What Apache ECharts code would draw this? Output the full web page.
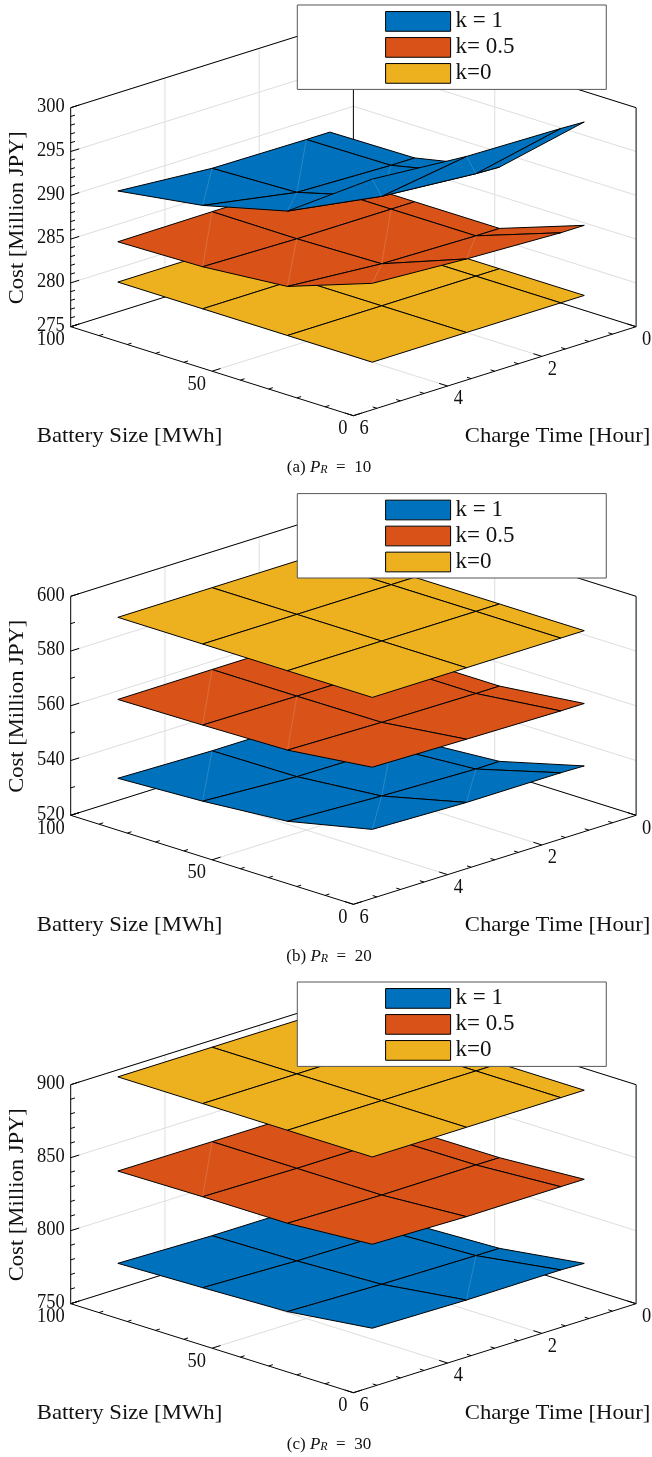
<!DOCTYPE html>
<html>
<head>
<meta charset="utf-8">
<style>html,body{margin:0;padding:0;background:#fff}#c{width:652px;height:1457px}</style>
<script src="https://cdn.jsdelivr.net/npm/echarts@6/dist/echarts.min.js"></script>
</head>
<body>
<div id="c"></div>
<script>
// ---- data ----
const batterySizes = [100, 70, 40, 10];      // back to front
const chargeTimes  = [0.5, 1, 3, 5];         // back to front
const batteryTicks = [0, 50, 100];
const timeTicks    = [0, 2, 4, 6];
const seriesNames  = ['k = 1', 'k= 0.5', 'k=0'];
const captions     = ['a', 'b', 'c'];
const captionPR    = [10, 20, 30];

const costTicksA = [275, 280, 285, 290, 295, 300];
const costTicksB = [520, 540, 560, 580, 600];
const costTicksC = [750, 800, 850, 900];

// rows follow batterySizes, columns follow chargeTimes
const costA_k1 = [
  [287.9, 287.9, 288.0, 288.8],
  [288.0, 288.0, 288.3, 290.2],
  [290.0, 290.1, 290.9, 292.6],
  [298.2, 298.3, 298.5, 299.3]];
const costA_k05 = [
  [283.0, 283.0, 283.05, 283.0],
  [283.0, 283.0, 283.0, 283.2],
  [283.0, 283.0, 283.2, 284.0],
  [286.4, 286.4, 286.8, 287.4]];
const costA_k0 = [
  [278.4, 278.4, 278.4, 278.4],
  [278.4, 278.4, 278.4, 278.4],
  [278.4, 278.4, 278.4, 278.4],
  [278.4, 278.4, 278.4, 278.4]];

const costB_k1 = [
  [527.3, 527.3, 527.3, 528.1],
  [527.3, 527.3, 527.6, 529.5],
  [529.4, 529.3, 530.3, 531.9],
  [537.5, 537.7, 537.7, 538.7]];
const costB_k05 = [
  [557.0, 557.0, 557.0, 556.9],
  [556.9, 556.9, 557.0, 557.3],
  [556.9, 556.9, 557.2, 557.9],
  [560.3, 560.3, 560.8, 561.4]];
const costB_k0 = [
  [586.9, 586.9, 586.9, 586.9],
  [586.9, 586.9, 586.9, 586.9],
  [586.9, 586.9, 586.9, 586.9],
  [586.9, 586.9, 586.9, 586.9]];

const costC_k1 = [
  [766.0, 766.0, 766.1, 767.5],
  [766.5, 766.5, 767.1, 769.1],
  [768.6, 768.7, 769.4, 771.0],
  [776.6, 777.2, 776.9, 777.9]];
const costC_k05 = [
  [830.5, 830.5, 830.5, 830.7],
  [830.5, 830.5, 830.5, 831.4],
  [830.7, 830.8, 830.5, 831.5],
  [834.2, 834.2, 834.0, 835.4]];
const costC_k0 = [
  [895.2, 895.2, 895.2, 895.2],
  [895.2, 895.2, 895.2, 895.2],
  [895.2, 895.2, 895.2, 895.2],
  [895.2, 895.2, 895.2, 895.2]];

// ---- panel setup ----
const panels = [
  {ticks: costTicksA, minorStep: 1,  surfaces: [costA_k0, costA_k05, costA_k1], order: [2, 1, 0]},
  {ticks: costTicksB, minorStep: 10, surfaces: [costB_k1, costB_k05, costB_k0], order: [0, 1, 2]},
  {ticks: costTicksC, minorStep: 10, surfaces: [costC_k1, costC_k05, costC_k0], order: [0, 1, 2]}
];
const colors = ['#0072BD', '#D95319', '#EDB120'];
const offsets = [0, 488.6, 977];
const FONT = '"Liberation Serif", serif';
const GRID = '#dedede';
const FLOOR_RATIO = 89 / 219;      // floor depth relative to wall height
const PLOT_LEFT = 70.7, PLOT_W = 565.4, PLOT_H = 397, PLOT_BOTTOM = 415.7;

function projector(panel, api) {
  const t0 = panel.ticks[0], t1 = panel.ticks[panel.ticks.length - 1];
  return (b, t, z) => {
    const bn = b / 100, tn = (6 - t) / 6, zn = (z - t0) / (t1 - t0);
    return api.coord([tn - bn, (bn + tn) * FLOOR_RATIO + zn]);
  };
}
function line(p, q, color, w) {
  return {type: 'line', shape: {x1: p[0], y1: p[1], x2: q[0], y2: q[1]},
          style: {stroke: color, lineWidth: w, fill: null}, silent: true};
}
function text(str, x, y, align, fs, sx, rot) {
  return {type: 'text', x, y, rotation: rot || 0, scaleX: sx || 1, silent: true,
          style: {text: str, font: fs + 'px ' + FONT, fill: '#111',
                  textAlign: align || 'center', textVerticalAlign: 'middle'}};
}
const num = (v, x, y, align) => text(String(v), x, y, align, 20.5, 0.9);

function renderFrame(panel) {
  return function (params, api) {
    const P = projector(panel, api);
    const zs = panel.ticks, zMin = zs[0], zMax = zs[zs.length - 1];
    const els = [];
    // wall and floor grid
    zs.forEach(z => {
      els.push(line(P(100, 6, z), P(100, 0, z), GRID, 1));
      els.push(line(P(100, 0, z), P(0, 0, z), GRID, 1));
    });
    timeTicks.slice(1, -1).forEach(t => {
      els.push(line(P(100, t, zMin), P(100, t, zMax), GRID, 1));
      els.push(line(P(0, t, zMin), P(100, t, zMin), GRID, 1));
    });
    batteryTicks.slice(1, -1).forEach(b => {
      els.push(line(P(b, 0, zMin), P(b, 0, zMax), GRID, 1));
      els.push(line(P(b, 6, zMin), P(b, 0, zMin), GRID, 1));
    });
    // box
    const K = '#000';
    [[100, 6, zMin, 100, 6, zMax], [0, 0, zMin, 0, 0, zMax], [100, 0, zMin, 100, 0, zMax],
     [100, 6, zMax, 100, 0, zMax], [100, 0, zMax, 0, 0, zMax],
     [100, 6, zMin, 100, 0, zMin], [100, 0, zMin, 0, 0, zMin],
     [100, 6, zMin, 0, 6, zMin], [0, 6, zMin, 0, 0, zMin]].forEach(s => {
      els.push(line(P(s[0], s[1], s[2]), P(s[3], s[4], s[5]), K, 1));
    });
    // cost axis
    for (let z = zMin; z <= zMax + 1e-6; z += panel.minorStep) {
      const major = zs.includes(z);
      els.push(line(P(100, 6, z), P(100, 6 - (major ? 0.18 : 0.09), z), K, 1));
    }
    zs.forEach(z => {
      const p = P(100, 6, z);
      els.push(num(z, p[0] - 6, p[1] - 1, 'right'));
    });
    // battery axis
    for (let b = 0; b <= 100; b += 10) {
      const major = batteryTicks.includes(b);
      els.push(line(P(b, 6, zMin), P(b, 6 - (major ? 0.18 : 0.09), zMin), K, 1));
    }
    batteryTicks.forEach(b => {
      const p = P(b, 6, zMin);
      els.push(num(b, p[0] - 6, p[1] + 13, 'right'));
    });
    // time axis
    for (let t = 0; t <= 6; t += 0.5) {
      const major = timeTicks.includes(t);
      els.push(line(P(0, t, zMin), P(major ? 3 : 1.5, t, zMin), K, 1));
    }
    timeTicks.forEach(t => {
      const p = P(0, t, zMin);
      els.push(num(t, p[0] + 6, p[1] + 13, 'left'));
    });
    // axis titles
    const front = P(0, 6, zMin);
    const left = P(100, 6, zMin);
    els.push(text('Battery Size [MWh]', 129.5, front[1] + 21, 'center', 21, 1.082));
    els.push(text('Charge Time [Hour]', 557.5, front[1] + 21, 'center', 21, 1.082));
    els.push(text('Cost [Million JPY]', 17.5, left[1] - 109, 'center', 21, 1.075, Math.PI / 2));
    return {type: 'group', children: els};
  };
}

function renderQuad(panel, color) {
  return function (params, api) {
    const P = projector(panel, api);
    const c = [0, 3, 6, 9].map(i => P(api.value(i), api.value(i + 1), api.value(i + 2)));
    const children = [{
      type: 'polygon', shape: {points: c}, silent: true,
      style: {fill: color, stroke: '#000', lineWidth: 1, lineJoin: 'round'}
    }];
    const twist = Math.abs(c[0][1] + c[2][1] - c[1][1] - c[3][1]);
    if (twist > 1) {
      children.push(line(c[0], c[2], 'rgba(255,255,255,0.25)', 0.6));
    }
    return {type: 'group', children};
  };
}

function quadsOf(grid) {
  const rows = [];
  for (let i = 0; i < batterySizes.length - 1; i++) {
    for (let j = 0; j < chargeTimes.length - 1; j++) {
      const pt = (a, b) => [batterySizes[a], chargeTimes[b], grid[a][b]];
      rows.push([...pt(i, j), ...pt(i, j + 1), ...pt(i + 1, j + 1), ...pt(i + 1, j)]);
    }
  }
  return rows;
}

const grids = [], xAxes = [], yAxes = [], series = [], legends = [], titles = [];
panels.forEach((panel, pi) => {
  const off = offsets[pi];
  grids.push({left: PLOT_LEFT, width: PLOT_W, top: PLOT_BOTTOM + off - PLOT_H, height: PLOT_H});
  xAxes.push({type: 'value', gridIndex: pi, min: -1, max: 1, show: false});
  yAxes.push({type: 'value', gridIndex: pi, min: 0, max: 2 * FLOOR_RATIO + 1, show: false});
  series.push({
    type: 'custom', xAxisIndex: pi, yAxisIndex: pi, clip: false, silent: true, z: 1,
    data: [[0, 0]], renderItem: renderFrame(panel)
  });
  panel.order.forEach((nameIdx, k) => {
    series.push({
      type: 'custom', name: seriesNames[nameIdx], xAxisIndex: pi, yAxisIndex: pi,
      clip: false, silent: true, z: 2 + k, itemStyle: {color: colors[nameIdx]},
      data: quadsOf(panel.surfaces[k]), renderItem: renderQuad(panel, colors[nameIdx])
    });
  });
  legends.push({
    left: 297.3, top: 5 + off, orient: 'vertical', align: 'left', selectedMode: false,
    backgroundColor: '#fff', borderColor: '#555', borderWidth: 1, borderRadius: 0,
    padding: [4.9, 91.7, 4.5, 87.8], itemWidth: 65, itemHeight: 19.7, itemGap: 3,
    itemStyle: {borderColor: '#000', borderWidth: 1}, z: 20,
    textStyle: {fontFamily: FONT, fontSize: 23, lineHeight: 23, color: '#111'},
    data: seriesNames.map((n, i) => ({name: n, icon: 'rect', itemStyle: {color: colors[i], borderColor: '#000', borderWidth: 1}}))
  });
  titles.push({
    text: '(' + captions[pi] + ') {i|P}{s|R}  =  ' + captionPR[pi],
    left: 329, top: 459 + off, textAlign: 'center', padding: 0,
    textStyle: {fontFamily: FONT, fontSize: 17, fontWeight: 'normal', color: '#111',
      rich: {i: {fontFamily: FONT, fontSize: 17, fontStyle: 'italic', color: '#111'},
             s: {fontFamily: FONT, fontSize: 12, fontStyle: 'italic', color: '#111', verticalAlign: 'bottom', padding: [5, 0, 0, 0]}}}
  });
});

const chart = echarts.init(document.getElementById('c'), null, {renderer: 'canvas'});
chart.setOption({
  animation: false, backgroundColor: '#fff', tooltip: {show: false},
  title: titles, grid: grids, xAxis: xAxes, yAxis: yAxes, legend: legends, series
});
</script>
</body>
</html>
